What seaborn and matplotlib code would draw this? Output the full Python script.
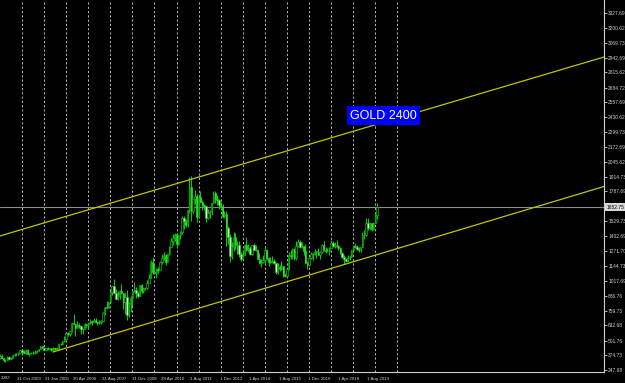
import numpy as np
import pandas as pd
import matplotlib
matplotlib.use("Agg")
import matplotlib.pyplot as plt
import matplotlib.transforms as mtransforms
import seaborn as sns

# ---------------- data (monthly XAUUSD, Jan 2003 .. Feb 2020) ----------------
start_year = 2003
first_open = 347
closes = [
    367, 347, 334, 336, 364, 346, 354, 375, 384, 386, 398, 416,        # 2003
    400, 396, 423, 388, 393, 394, 391, 407, 415, 428, 453, 438,        # 2004
    423, 434, 427, 435, 417, 437, 429, 433, 473, 470, 495, 513,        # 2005
    568, 556, 582, 654, 643, 613, 632, 623, 599, 604, 646, 632,        # 2006
    650, 665, 663, 679, 659, 650, 665, 672, 743, 789, 783, 834,        # 2007
    923, 972, 916, 864, 887, 929, 912, 833, 880, 718, 816, 869,        # 2008
    928, 942, 916, 884, 979, 926, 955, 955, 1001, 1040, 1182, 1096,    # 2009
    1081, 1118, 1113, 1180, 1212, 1244, 1181, 1248, 1308, 1357, 1386, 1421,  # 2010
    1332, 1411, 1439, 1556, 1536, 1500, 1628, 1826, 1620, 1722, 1746, 1565,  # 2011
    1737, 1697, 1669, 1664, 1560, 1598, 1614, 1692, 1773, 1719, 1714, 1675,  # 2012
    1664, 1578, 1596, 1472, 1393, 1234, 1312, 1396, 1327, 1323, 1250, 1202,  # 2013
    1244, 1326, 1284, 1296, 1250, 1327, 1282, 1287, 1208, 1171, 1183, 1199,  # 2014
    1283, 1213, 1183, 1182, 1190, 1172, 1095, 1134, 1115, 1142, 1065, 1061,  # 2015
    1118, 1238, 1234, 1293, 1215, 1321, 1351, 1309, 1316, 1277, 1173, 1151,  # 2016
    1211, 1249, 1249, 1268, 1268, 1242, 1269, 1322, 1280, 1271, 1275, 1303,  # 2017
    1345, 1318, 1325, 1315, 1299, 1253, 1224, 1201, 1192, 1215, 1222, 1282,  # 2018
    1321, 1313, 1292, 1284, 1305, 1409, 1413, 1520, 1472, 1513, 1464, 1517,  # 2019
    1589, 1653,                                                        # 2020
]
highs = [
    383, 382, 352, 341, 372, 372, 363, 377, 392, 396, 400, 418,
    427, 417, 429, 431, 398, 399, 411, 419, 419, 432, 457, 457,
    443, 440, 447, 439, 437, 443, 437, 448, 476, 478, 497, 541,
    570, 574, 584, 654, 730, 646, 669, 652, 625, 612, 650, 643,
    653, 690, 671, 693, 692, 664, 680, 683, 745, 795, 846, 836,
    935, 976, 1032, 943, 932, 939, 988, 916, 913, 935, 830, 884,
    928, 1007, 963, 932, 982, 990, 960, 967, 1025, 1072, 1196, 1226,
    1162, 1127, 1135, 1185, 1249, 1265, 1245, 1252, 1315, 1387, 1424, 1432,
    1424, 1412, 1447, 1576, 1577, 1553, 1632, 1913, 1921, 1726, 1804, 1764,
    1763, 1791, 1715, 1680, 1666, 1640, 1627, 1692, 1790, 1796, 1754, 1723,
    1695, 1684, 1617, 1616, 1487, 1424, 1348, 1434, 1433, 1362, 1361, 1267,
    1280, 1332, 1392, 1331, 1315, 1326, 1345, 1323, 1290, 1255, 1207, 1238,
    1307, 1295, 1224, 1224, 1232, 1205, 1175, 1170, 1157, 1191, 1142, 1088,
    1123, 1263, 1283, 1303, 1304, 1362, 1375, 1367, 1352, 1317, 1338, 1186,
    1219, 1264, 1261, 1295, 1276, 1296, 1274, 1331, 1357, 1306, 1299, 1307,
    1366, 1361, 1356, 1365, 1326, 1309, 1266, 1236, 1214, 1243, 1237, 1285,
    1326, 1347, 1324, 1310, 1306, 1439, 1453, 1555, 1557, 1517, 1515, 1525,
    1611, 1689,
]
lows = [
    342, 344, 320, 319, 333, 340, 341, 351, 370, 370, 375, 398,
    398, 391, 388, 383, 371, 385, 386, 387, 398, 410, 427, 434,
    418, 418, 424, 422, 414, 413, 417, 429, 433, 460, 466, 491,
    514, 538, 542, 579, 643, 542, 609, 606, 560, 562, 603, 607,
    604, 647, 637, 663, 651, 639, 648, 643, 667, 725, 781, 783,
    835, 896, 909, 863, 848, 862, 905, 773, 735, 681, 704, 746,
    802, 917, 866, 866, 882, 913, 908, 934, 950, 1002, 1043, 1075,
    1075, 1044, 1085, 1113, 1162, 1197, 1155, 1180, 1242, 1308, 1330, 1359,
    1309, 1324, 1381, 1419, 1462, 1478, 1478, 1605, 1535, 1602, 1679, 1523,
    1563, 1689, 1627, 1628, 1527, 1547, 1563, 1582, 1691, 1692, 1673, 1635,
    1625, 1555, 1562, 1321, 1338, 1180, 1208, 1271, 1292, 1251, 1221, 1187,
    1202, 1241, 1277, 1268, 1240, 1240, 1280, 1273, 1207, 1161, 1132, 1170,
    1167, 1197, 1142, 1170, 1168, 1162, 1077, 1080, 1098, 1113, 1053, 1046,
    1061, 1107, 1207, 1208, 1199, 1200, 1310, 1301, 1302, 1241, 1171, 1123,
    1146, 1201, 1194, 1244, 1214, 1236, 1204, 1258, 1271, 1260, 1263, 1236,
    1302, 1307, 1303, 1302, 1281, 1245, 1211, 1160, 1180, 1182, 1196, 1221,
    1276, 1302, 1281, 1266, 1267, 1306, 1382, 1400, 1459, 1458, 1445, 1459,
    1517, 1548,
]

current_price = 1652.75

# trend channel anchors: (month index from Jan 2003, price)
upper_months = [0.0, 328.3]
upper_prices = [1404, 2948]
lower_months = [28.8, 328.3]
lower_prices = [403, 1831]

# x-axis date labels (year, month) and their text
label_dates = [(2003, 10), (2005, 1), (2006, 4), (2007, 8), (2008, 12), (2010, 4),
               (2011, 8), (2012, 12), (2014, 4), (2015, 8), (2016, 12), (2018, 4), (2019, 8)]
label_texts = ["31 Oct 2003", "31 Jan 2005", "30 Apr 2006", "31 Aug 2007", "31 Dec 2008",
               "28 Apr 2010", "1 Aug 2011", "1 Dec 2012", "1 Apr 2014", "1 Aug 2015",
               "1 Dec 2016", "1 Apr 2018", "1 Aug 2019"]
separator_years = list(range(2004, 2022))

# y-axis price labels
price_ticks = [247.68, 374.73, 501.76, 632.68, 759.73, 886.76, 1017.69, 1144.73, 1271.70,
               1402.69, 1529.73, 1787.69, 1914.73, 2045.62, 2172.69, 2299.73, 2430.62,
               2557.69, 2684.72, 2815.62, 2942.69, 3069.73, 3200.62, 3327.69]

gold_text = "GOLD 2400"
gold_month = 208.4
gold_price = 2440

# ---------------- plotting ----------------
sns.set_style("dark", {"axes.facecolor": "black", "figure.facecolor": "black",
                       "axes.grid": False})
plt.rcParams['font.family'] = ['Liberation Sans', 'DejaVu Sans']

W, H = 625, 383
fig = plt.figure(figsize=(W / 100, H / 100), dpi=100, facecolor="black")
ax = fig.add_axes([0, 11 / H, 604 / W, 372 / H])
ax.set_facecolor("black")

def midx(y, mo):
    return (y - start_year) * 12 + (mo - 1)

c = np.array(closes, float)
o = np.r_[first_open, c[:-1]]
hi = np.array(highs, float)
lo = np.array(lows, float)
m = np.arange(len(c))

# year separators
sep_x = [midx(y, 1) for y in separator_years]
ax.vlines(sep_x, 0, 1, transform=ax.get_xaxis_transform(), colors="#b8b8b8",
          linestyles=(0, (2.2, 2.2)), linewidth=0.7, zorder=1)

# current price line
ax.axhline(current_price, color="#8a8a8a", lw=0.8, zorder=1.5)

# candles
green = "#00d800"
ax.vlines(m, lo, hi, colors=green, linewidth=0.7, zorder=3)
body_bot = np.minimum(o, c)
body_h = np.maximum(np.abs(c - o), 4)
face = np.where(c >= o, "black", "#e8ffe8")
ax.bar(m, body_h, bottom=body_bot, width=0.75, color=face, edgecolor=green,
       linewidth=0.45, zorder=4)

# trend channel
chan = pd.DataFrame({
    "month": upper_months + lower_months,
    "price": upper_prices + lower_prices,
    "line": ["upper"] * 2 + ["lower"] * 2,
})
sns.lineplot(data=chan, x="month", y="price", units="line", estimator=None,
             color="#c4c400", lw=0.9, ax=ax, zorder=5)

# text label
ax.text(gold_month, gold_price, gold_text, color="white", fontsize=9,
        ha="center", va="center", zorder=6,
        bbox=dict(facecolor="#0000ff", edgecolor="none", boxstyle="square,pad=0.28"))

# limits
ax.set_xlim(0.04, 328.3)
ax.set_ylim(230.4, 3439.7)
ax.set_xlabel("")
ax.set_ylabel("")

# spines
for s in ["top", "left"]:
    ax.spines[s].set_visible(False)
for s in ["right", "bottom"]:
    ax.spines[s].set_visible(True)
    ax.spines[s].set_color("#d0d0d0")
    ax.spines[s].set_linewidth(0.8)

# y ticks on the right
ax.yaxis.tick_right()
ax.set_yticks(price_ticks)
ax.set_yticklabels([f"{v:.2f}" for v in price_ticks])
ax.tick_params(axis="y", direction="out", length=2, width=0.6, color="#d0d0d0",
               labelsize=3.5, labelcolor="#d0d0d0", pad=1)

# x ticks
xt = [midx(y, mo) for y, mo in label_dates]
ax.set_xticks(xt)
ax.set_xticklabels(label_texts)
ax.tick_params(axis="x", direction="out", length=3, width=0.6, color="#d0d0d0",
               labelsize=3.2, labelcolor="#d0d0d0", pad=0.5)
offset = mtransforms.ScaledTranslation(1.0 / 100, 0, fig.dpi_scale_trans)
for lbl in ax.get_xticklabels():
    lbl.set_ha("left")
    lbl.set_transform(lbl.get_transform() + offset)
ax.text(0.002, -0.0095, "2002", transform=ax.transAxes, ha="left", va="top",
        fontsize=3.2, color="#d0d0d0", clip_on=False)

# current price tag
trans = mtransforms.blended_transform_factory(ax.transAxes, ax.transData)
ax.text(1.004, current_price, f"{current_price:.2f}", transform=trans, ha="left",
        va="center", fontsize=3.5, color="black", clip_on=False, zorder=7,
        bbox=dict(facecolor="#d8d8d8", edgecolor="none", boxstyle="square,pad=0.25"))

fig.savefig("out.png", dpi=100, facecolor="black")
